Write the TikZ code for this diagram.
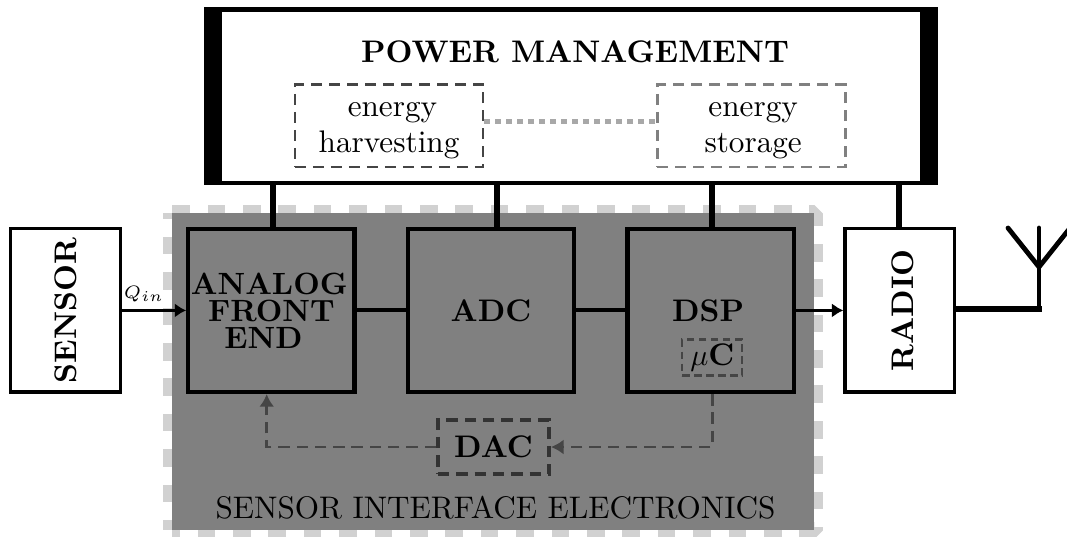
\documentclass[tikz,border=0pt]{standalone}
\usetikzlibrary{arrows.meta}
\tikzset{
  blockbox/.style={draw=black,line width=1.4pt,minimum width=55.4pt,minimum height=54.4pt,inner sep=0pt,font=\bfseries,align=center},
  whitebox/.style={draw=black,fill=white,line width=1.1pt,minimum width=36.5pt,minimum height=54.4pt,inner sep=0pt,font=\bfseries},
  subbox/.style={line width=0.8pt,dash pattern=on 3.6pt off 2.4pt,minimum width=62.7pt,minimum height=27.5pt,inner sep=0pt,align=center},
  bus/.style={line width=2.1pt,black},
  link/.style={line width=1.35pt,black},
  sig/.style={line width=0.95pt,black,-{Latex[length=3.8pt,width=4.8pt]}},
  fb/.style={line width=0.85pt,gray30,dash pattern=on 3.8pt off 2.3pt,-{Latex[length=4.2pt,width=5pt,sep=0pt]}},
  rimline/.style={line width=5.67pt,rimgray,line cap=butt,line join=bevel,dash pattern=on 5.9pt off 5.9pt},
  txt/.style={inner sep=0pt,anchor=base},
  antenna/.style={line width=1.6pt,black},
}
\definecolor{gray30}{gray}{0.27}
\definecolor{rimgray}{gray}{0.82}
\definecolor{plate}{gray}{0.5}
\AtBeginDocument{\fontsize{10.4}{12}\selectfont}
\begin{document}
\begin{tikzpicture}[x=0.33333pt,y=-0.33333pt]
\useasboundingbox (0,0) rectangle (1067,536);
\clip (0,0) rectangle (1067,536);
% sensor interface plate with dashed rim
\coordinate (pTL) at (172,213);
\coordinate (pBL) at (172,530);
\coordinate (pBR) at (814,530);
\coordinate (pTR) at (814,213);
\draw[rimline,dash phase=3.3pt] (pBL) -- (pBR) -- (pTR) -- (pTL);
\draw[rimline,dash phase=3.9pt] (pTL) -- (pBL);
\fill[plate] (pTL) rectangle (pBR);
% power management
\node[fill=black,minimum width=244.7pt,minimum height=59.3pt,inner sep=0pt] (power) at (570.7,96) {};
\node[fill=white,minimum width=232.7pt,minimum height=56.2pt,inner sep=0pt] (powerin) at (570.9,96.3) {};
\node[txt,font=\bfseries] (title) at (575,62) {POWER MANAGEMENT};
\node[subbox,draw=gray30] (harvest) at (389,125.8) {\hspace*{2.3pt}\rule{0pt}{7.7pt}energy\\harvesting};
\node[subbox,draw=black!50] (storage) at (751.5,125.8) {\hspace*{1.1pt}\rule{0pt}{7.7pt}energy\\\hspace*{1.1pt}storage};
\coordinate (dotrow) at (570,121.3);
\draw[line width=1.8pt,black!34,dash pattern=on 2pt off 1.67pt] (harvest.east |- dotrow) -- (storage.west |- dotrow);
% blocks
\node[whitebox] (sensor) at (65.5,310.4) {\rotatebox{90}{SENSOR}};
\node[blockbox,font=\bfseries\fontsize{10.25}{9}\selectfont] (afe) at (271.35,310.4) {ANALOG\hspace*{1.4pt}\\FRONT\\END\hspace*{5.3pt}};
\node[blockbox] (adc) at (491,310.4) {ADC};
\node[blockbox] (dsp) at (710.6,310.4) {DSP\hspace*{1.7pt}};
\node[whitebox] (radio) at (899.7,310.4) {\hspace*{2pt}\rotatebox{90}{RADIO}};
\node[draw=gray30,line width=0.7pt,dash pattern=on 2.4pt off 1.6pt,minimum width=20pt,minimum height=12pt,inner sep=0pt] (mu) at (712.4,357.5) {$\mu$\textbf{C}};
\node[draw=black!80,line width=1.3pt,dash pattern=on 3.8pt off 2.3pt,minimum width=37pt,minimum height=18pt,inner sep=0pt,font=\bfseries] (dac) at (493.5,447) {DAC};
\node[txt] (platelabel) at (495.5,518) {SENSOR INTERFACE ELECTRONICS};
\node[txt,font=\fontsize{6}{7}\selectfont] (qin) at (144,298) {$Q_{in}$};
% power buses
\coordinate (tapA) at (273,185);
\coordinate (tapB) at (497,185);
\coordinate (tapC) at (712,185);
\coordinate (tapD) at (899,185);
\draw[bus] (tapA) -- (tapA |- afe.north);
\draw[bus] (tapB) -- (tapB |- adc.north);
\draw[bus] (tapC) -- (tapC |- dsp.north);
\draw[bus] (tapD) -- (tapD |- radio.north);
% signal path
\draw[sig] (sensor.east) -- (afe.west);
\draw[link] (afe.east) -- (adc.west);
\draw[link] (adc.east) -- (dsp.west);
\draw[sig] (dsp.east) -- (radio.west);
% feedback
\coordinate (fbx) at (266.7,447);
\draw[fb] (dsp.south -| mu.south) -- (mu.south |- dac.east) -- (dac.east);
\draw[fb] (dac.west) -- (fbx) -- (fbx |- afe.south);
% antenna
\coordinate (antbase) at (1041.5,308.7);
\coordinate (antstem) at (1039,311.5);
\coordinate (antfork) at (1039,267);
\coordinate (anttop) at (1039,228);
\coordinate (antleft) at (1008,228);
\coordinate (antright) at (1070,228);
\draw[line width=2pt,black] (antbase -| radio.east) -- (antbase);
\draw[antenna] (antstem) -- (antfork);
\draw[antenna,line cap=round] (antfork) -- (anttop);
\draw[antenna,line cap=round] (antleft) -- (antfork) -- (antright);
\end{tikzpicture}
\end{document}
